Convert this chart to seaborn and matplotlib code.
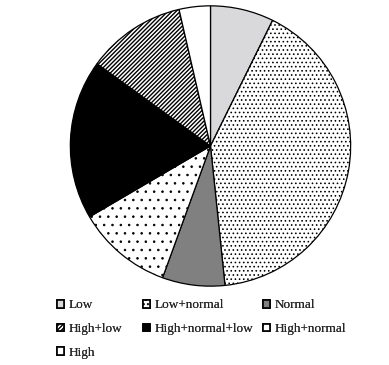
import matplotlib
matplotlib.use("Agg")
import matplotlib.pyplot as plt
import seaborn as sns

sns.set_style("white")
plt.rcParams["font.family"] = ["Liberation Serif", "DejaVu Serif"]
plt.rcParams["hatch.linewidth"] = 1.0

# Pie order (clockwise from 12 o'clock)
categories = ["Low", "Low+normal", "Normal", "High+normal",
              "High+normal+low", "High+low", "High"]
shares = [7.3, 41.0, 7.2, 11.0, 18.4, 11.4, 3.6]
facecolors = ["#d9d9dc", "white", "#808080", "white", "black", "white", "white"]
hatches = [None, "....", None, "..", None, "////////", None]
hatch_widths = [1.0, 0.65, 1.0, 0.6, 1.0, 1.0, 1.0]

# Legend layout (row-wise reading order, split into 3 columns)
legend_columns = [["Low", "High+low", "High"],
                  ["Low+normal", "High+normal+low"],
                  ["Normal", "High+normal"]]

W, H = 389, 365
fig = plt.figure(figsize=(W / 100, H / 100), dpi=100)
cx, cy, r = 210.5, 146.0, 141.0
ax = fig.add_axes([(cx - r) / W, (H - cy - r) / H, 2 * r / W, 2 * r / H])

wedges, _ = ax.pie(shares, colors=facecolors, startangle=90, counterclock=False,
                   wedgeprops=dict(edgecolor="black", linewidth=0.9))
for w, h, hw in zip(wedges, hatches, hatch_widths):
    if h:
        w.set_hatch(h)
        if hasattr(w, "set_hatch_linewidth"):
            w.set_hatch_linewidth(hw)
ax.set_xlim(-1.006, 1.006)
ax.set_ylim(-1.006, 1.006)
ax.set_aspect("equal")

handle_of = dict(zip(categories, wedges))
col_x = [57.5, 143.0, 263.0]
top_y = 299.5
for x, names in zip(col_x, legend_columns):
    leg = fig.legend([handle_of[n] for n in names], names,
                     loc="upper left", bbox_to_anchor=(x / W, (H - top_y) / H),
                     frameon=False, fontsize=9.5, borderpad=0, borderaxespad=0,
                     handlelength=0.5, handleheight=0.5, handletextpad=0.35,
                     labelspacing=0.88)
    for p in leg.get_patches():
        p.set_linewidth(1.2)
    fig.add_artist(leg)

fig.savefig("out.png", dpi=100)
